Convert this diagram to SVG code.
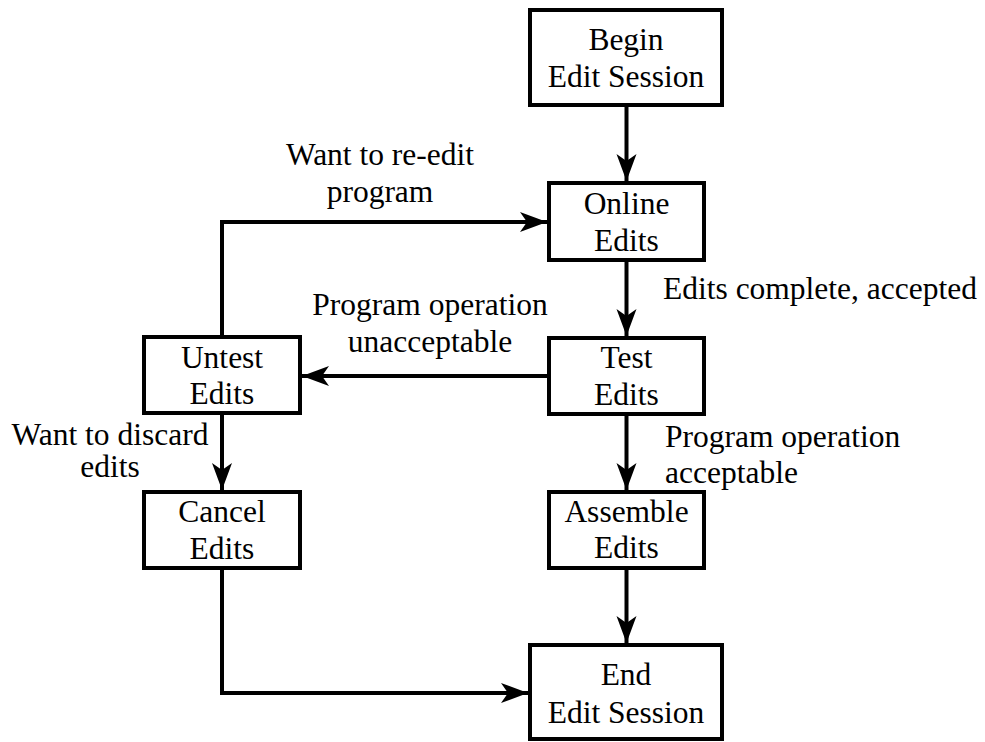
<svg xmlns="http://www.w3.org/2000/svg" width="985" height="742" viewBox="0 0 985 742">
<style>
.box{fill:#fff;stroke:#000;stroke-width:4}
.ln{fill:none;stroke:#000;stroke-width:4;marker-end:url(#ah)}
.t{font-family:"Liberation Serif","Times New Roman",serif;font-size:31.5px;fill:#000}
.c{text-anchor:middle}
</style>
<defs>
<marker id="ah" markerUnits="userSpaceOnUse" markerWidth="30" markerHeight="24" viewBox="-28 -12 30 24" refX="0" refY="0" orient="auto">
<path d="M0,0 L-27,-10 L-20,0 L-27,10 Z" fill="#000"/>
</marker>
</defs>
<rect width="985" height="742" fill="#fff"/>
<g id="connectors">
<path class="ln" d="M626.5,105 V181"/>
<path class="ln" d="M626.5,260 V336"/>
<path class="ln" d="M626.5,414 V490"/>
<path class="ln" d="M626.5,568 V643"/>
<path class="ln" d="M549,376 H302"/>
<path class="ln" d="M222,337 V222 H547"/>
<path class="ln" d="M222,413 V490"/>
<path class="ln" d="M222,568 V693 H528"/>
</g>
<g id="begin"><rect class="box" x="530" y="10" width="192" height="95"/><text class="t c" x="626" y="50">Begin</text><text class="t c" x="626" y="87">Edit Session</text></g>
<g id="online"><rect class="box" x="549" y="183" width="155" height="77"/><text class="t c" x="626.5" y="214">Online</text><text class="t c" x="626.5" y="251">Edits</text></g>
<g id="test"><rect class="box" x="549" y="338" width="155" height="76"/><text class="t c" x="626.5" y="368">Test</text><text class="t c" x="626.5" y="405">Edits</text></g>
<g id="assemble"><rect class="box" x="549" y="492" width="155" height="76"/><text class="t c" x="626.5" y="522">Assemble</text><text class="t c" x="626.5" y="558">Edits</text></g>
<g id="end"><rect class="box" x="530" y="645" width="192" height="94"/><text class="t c" x="626" y="685">End</text><text class="t c" x="626" y="723">Edit Session</text></g>
<g id="untest"><rect class="box" x="144" y="337" width="156" height="76"/><text class="t c" x="222" y="368">Untest</text><text class="t c" x="222" y="404">Edits</text></g>
<g id="cancel"><rect class="box" x="144" y="492" width="156" height="76"/><text class="t c" x="222" y="522">Cancel</text><text class="t c" x="222" y="559">Edits</text></g>
<g id="labels">
<text class="t c" x="380" y="165">Want to re-edit</text>
<text class="t c" x="380" y="202">program</text>
<text class="t" x="663" y="299">Edits complete, accepted</text>
<text class="t c" x="430" y="315">Program operation</text>
<text class="t c" x="430" y="352">unacceptable</text>
<text class="t c" x="110" y="445">Want to discard</text>
<text class="t c" x="110" y="477">edits</text>
<text class="t" x="665" y="447">Program operation</text>
<text class="t" x="665" y="483">acceptable</text>
</g>
</svg>
